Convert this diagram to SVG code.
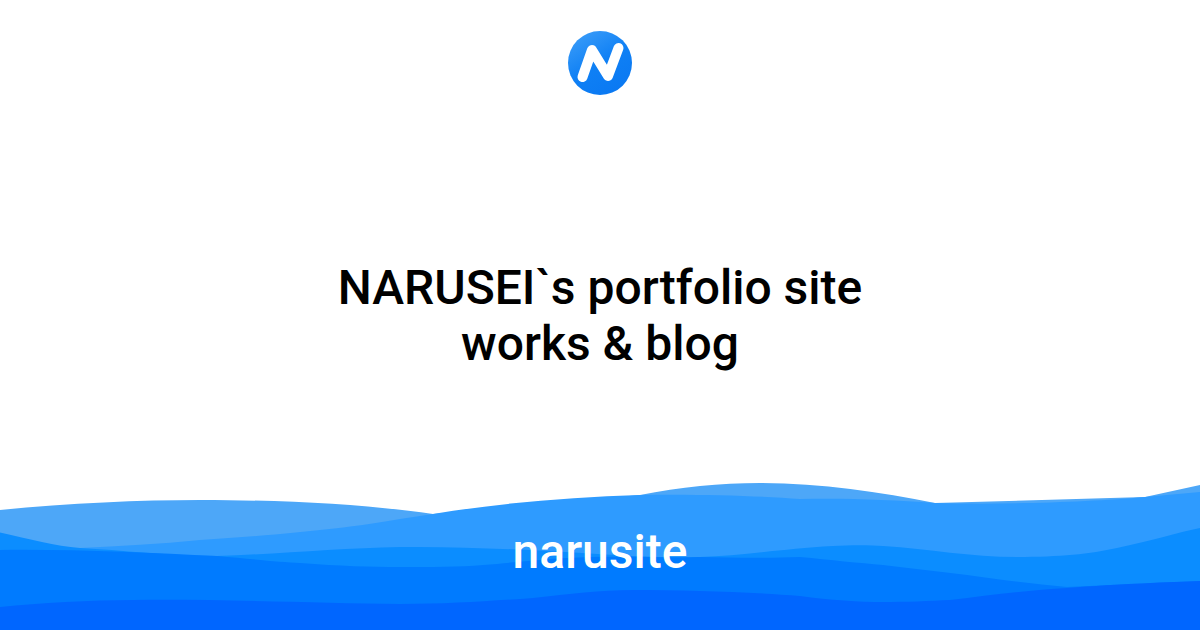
<svg xmlns="http://www.w3.org/2000/svg" width="1200" height="630" viewBox="0 0 1200 630">
<style>
text{font-family:Roboto,"Liberation Sans",sans-serif;font-weight:500;text-anchor:middle}
.t{font-size:48px;fill:#000}
.b{font-size:48px;fill:#fff}
</style>
<defs>
<linearGradient id="g" x1="0.2" y1="0" x2="0.8" y2="1"><stop offset="0" stop-color="#3a9cf8"/><stop offset="0.5" stop-color="#0f80f5"/><stop offset="1" stop-color="#0a78f2"/></linearGradient>
</defs>
<rect width="1200" height="630" fill="#fff"/>
<g id="logo">
<circle cx="600" cy="63" r="32" fill="url(#g)"/>
<path d="M582.500 77L592 50L608 76L618.500 48" fill="none" stroke="#fff" stroke-width="10" stroke-linecap="round" stroke-linejoin="round"/>
</g>
<path id="wave1" fill="#4da7f8" d="M0 510C70 503 140 500 200 500C290 500 370 505 433 514L640 495C680 487 720 483 760 483C820 483 880 492 935 503L1145 497L1200 485V630H0Z"/>
<path id="wave2" fill="#2e9bff" d="M0 560L80 548C120 546 160 544 200 540C280 535 350 528 400 519L433 514C500 503 570 497 640 495C700 494 760 496 800 499C850 498 890 500 935 503C1000 505 1090 502 1145 497L1200 492V630H0Z"/>
<path id="wave3" fill="#0b8dff" d="M0 532.500C30 539 55 546 80 548C120 550 170 556 217 556C280 554 340 548 400 547C480 546 560 552 630 556C660 557 680 558 700 557C740 556 780 549 833 546C850 545 870 545 883 546C930 549 970 557 1017 557C1060 557 1090 554 1117 548C1150 541 1180 532 1200 528V630H0Z"/>
<path id="wave4" fill="#007bff" d="M0 550C70 549 150 553 217 556C250 559 280 562 300 563C340 566 370 567 400 567C430 567 460 567 483 565C520 562 545 559 567 558C610 555 660 558 700 557C740 558 770 558 800 557C830 560 860 563 883 565C910 568 940 572 967 575C1000 580 1035 584 1067 587L1200 581V630H0Z"/>
<path id="wave5" fill="#0066ff" d="M0 607C40 603 90 600 133 600C220 599 320 603 400 604C450 604 490 601 533 598C570 594 600 590 633 590C690 590 750 592 800 596C830 600 860 602 883 602C905 602 930 601 950 600C990 595 1030 590 1067 588C1120 584 1170 582 1200 581V630H0Z"/>
<text class="t" x="600" y="304">NARUSEI`s portfolio site</text>
<text class="t" x="600" y="360">works &amp; blog</text>
<text class="b" x="600" y="568">narusite</text>
</svg>
